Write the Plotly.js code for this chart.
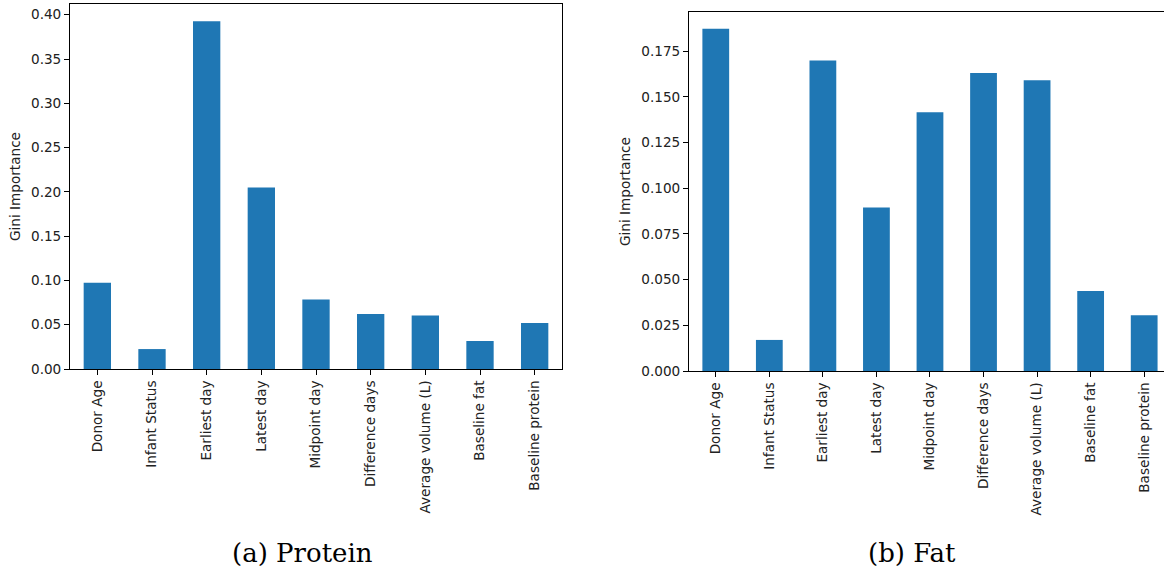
<!DOCTYPE html>
<html>
<head>
<meta charset="utf-8">
<script src="https://cdn.plot.ly/plotly-3.0.1.min.js"></script>
<style>html,body{margin:0;padding:0;background:#fff;}#chart{width:1164px;height:573px;}</style>
</head>
<body>
<div id="chart"></div>
<script>
const categories = ["Donor Age","Infant Status","Earliest day","Latest day","Midpoint day","Difference days","Average volume (L)","Baseline fat","Baseline protein"];
const proteinImportance = [0.0973, 0.0225, 0.3925, 0.205, 0.0785, 0.062, 0.0605, 0.0316, 0.0518];
const fatImportance = [0.1872, 0.017, 0.1699, 0.0895, 0.1415, 0.163, 0.159, 0.0437, 0.0305];
const yTicksProtein = [0, 0.05, 0.10, 0.15, 0.20, 0.25, 0.30, 0.35, 0.40];
const yTicksFat = [0, 0.025, 0.05, 0.075, 0.10, 0.125, 0.15, 0.175];
const captions = ["(a) Protein", "(b) Fat"];

const W = 1164, H = 573;
const barColor = "#1f77b4";
const tickFont = {family: "DejaVu Sans", size: 13.6, color: "#222"};

const traces = [
  {type: "bar", x: categories, y: proteinImportance, marker: {color: barColor}, width: 0.5, xaxis: "x", yaxis: "y", hoverinfo: "x+y"},
  {type: "bar", x: categories, y: fatImportance, marker: {color: barColor}, width: 0.5, xaxis: "x2", yaxis: "y2", hoverinfo: "x+y"}
];

const commonX = {
  type: "category", showgrid: false, zeroline: false, showline: true, linecolor: "#000", linewidth: 1,
  ticks: "outside", ticklen: 5, tickcolor: "#000", tickangle: -90, tickfont: tickFont, fixedrange: true
};
const commonY = {
  showgrid: false, zeroline: false, showline: true, linecolor: "#000", linewidth: 1,
  ticks: "outside", ticklen: 5, tickcolor: "#000", tickfont: tickFont, fixedrange: true,
  title: {text: "Gini Importance", font: {family: "DejaVu Sans", size: 13.6, color: "#222"}, standoff: 7}
};

const layout = {
  width: W, height: H,
  margin: {l: 0, r: 0, t: 0, b: 0},
  paper_bgcolor: "#fff", plot_bgcolor: "#fff",
  showlegend: false,
  xaxis: Object.assign({}, commonX, {domain: [70/W, 562/W], range: [-0.5, 8.5], mirror: true, anchor: "y"}),
  yaxis: Object.assign({}, commonY, {domain: [1 - 369/H, 1 - 4/H], range: [0, 0.4121], tickvals: yTicksProtein, ticktext: yTicksProtein.map(v => v.toFixed(2)), mirror: true, anchor: "x"}),
  xaxis2: Object.assign({}, commonX, {domain: [689/W, 1], range: [-0.5, 8.37], mirror: true, anchor: "y2"}),
  yaxis2: Object.assign({}, commonY, {domain: [1 - 371/H, 1 - 12/H], range: [0, 0.1964], tickvals: yTicksFat, ticktext: yTicksFat.map(v => v.toFixed(3)), anchor: "x2"}),
  annotations: [
    {text: captions[0], xref: "paper", yref: "paper", x: 302/W, y: 1 - 553/H, xanchor: "center", yanchor: "middle", showarrow: false, font: {family: "DejaVu Serif", size: 26, color: "#000"}},
    {text: captions[1], xref: "paper", yref: "paper", x: 912/W, y: 1 - 553/H, xanchor: "center", yanchor: "middle", showarrow: false, font: {family: "DejaVu Serif", size: 26, color: "#000"}}
  ]
};

Plotly.newPlot("chart", traces, layout, {displayModeBar: false, staticPlot: true});
</script>
</body>
</html>
